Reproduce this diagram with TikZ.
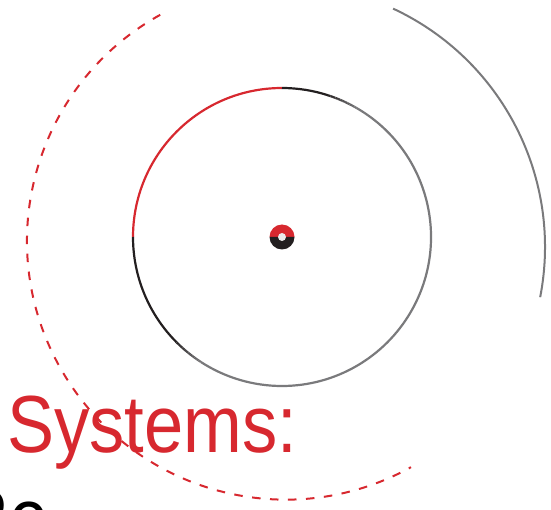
\documentclass[tikz,border=0pt]{standalone}
\usepackage{fontspec}
\setmainfont{Liberation Sans}
\definecolor{sysred}{RGB}{215,40,47}
\definecolor{ringgray}{RGB}{122,122,124}
\definecolor{ringblack}{RGB}{35,31,32}
\usetikzlibrary{calc}

\begin{document}
\begin{tikzpicture}[x=1pt,y=1pt,
    ring/.style={line width=2.2pt},
    bigfont/.style={font=\fontsize{81}{96}\selectfont,inner sep=0pt,xscale=0.87}]
  \useasboundingbox (0,0) rectangle (551,509);
  \clip (0,0) rectangle (551,509);
  \coordinate (C) at (282,272);
  \coordinate (D) at (285.6,268);
  \coordinate (G) at (282,262);
  % dashed outer half ring
  \draw[sysred,line width=2pt,dash pattern=on 8.5pt off 9.5pt] (D) ++(119:258.6) arc[start angle=119,end angle=299,radius=258.6];
  % gray outer arc
  \draw[ringgray,line width=2pt] (G) ++(65:263) arc[start angle=65,end angle=-11,radius=263];
  % middle ring
  \draw[ring,sysred] (C) ++(180:149) arc[start angle=180,end angle=90,radius=149];
  \draw[ring,ringblack] (C) ++(90:149) arc[start angle=90,end angle=72,radius=149];
  \draw[ring,ringblack] (C) ++(180:149) arc[start angle=180,end angle=225,radius=149];
  \foreach \a in {0,...,11}{
    \pgfmathsetmacro{\p}{(\a+1)*8}
    \draw[ring,ringgray!\p!ringblack] (C) ++(72-\a:149) arc[start angle=72-\a,end angle=71-\a,radius=149];
    \draw[ring,ringgray!\p!ringblack] (C) ++(225+\a:149) arc[start angle=225+\a,end angle=226+\a,radius=149];
  }
  \draw[ring,ringgray] (C) ++(60:149) arc[start angle=60,end angle=-123,radius=149];
  % center dot
  \fill[sysred] (C) ++(0:12.5) arc[start angle=0,end angle=180,radius=12.5] -- cycle;
  \fill[ringblack] (C) ++(180:12.5) arc[start angle=180,end angle=360,radius=12.5] -- cycle;
  \fill[white!92!black] (C) circle[radius=4];
  % titles
  \node[bigfont,text=sysred,anchor=base west] (title) at (7,57) {Systems:};
  \node[bigfont,text=black,anchor=base west] (subtitle) at (-42,-36) {Re};
\end{tikzpicture}
\end{document}
